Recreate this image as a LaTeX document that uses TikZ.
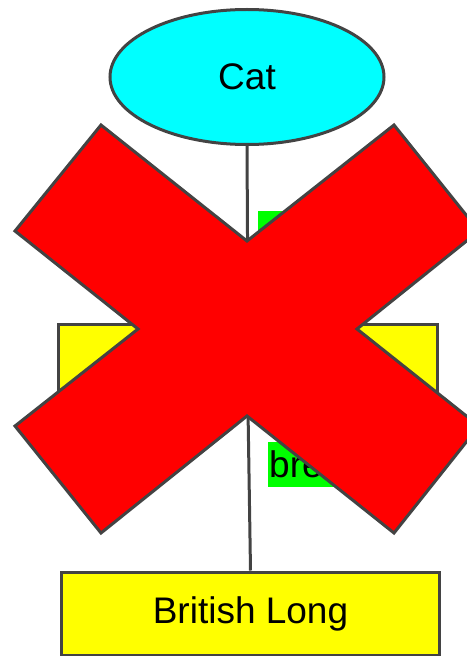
\documentclass[tikz,border=0pt]{standalone}
\usepackage{fontspec}
\setmainfont{Liberation Sans}
\usetikzlibrary{shapes.geometric}
\definecolor{edgegray}{HTML}{434343}
\definecolor{cyanfill}{HTML}{00FFFF}
\definecolor{yellowfill}{HTML}{FFFF00}
\definecolor{greenfill}{HTML}{00FF00}
\definecolor{redfill}{HTML}{FF0000}
\tikzset{
  base/.style={draw=edgegray, line width=3bp, font=\fontsize{37bp}{44bp}\selectfont, inner sep=0pt},
  ovalnode/.style={base, ellipse, fill=cyanfill, minimum width=274bp, minimum height=135bp},
  boxnode/.style={base, rectangle, fill=yellowfill, minimum width=378bp, minimum height=84bp},
  edgelabel/.style={fill=greenfill, anchor=north west, inner sep=0pt, minimum height=45bp, font=\fontsize{37bp}{44bp}\selectfont},
  connector/.style={draw=edgegray, line width=3bp},
  crossmark/.style={draw=edgegray, fill=redfill, line width=3bp, line join=miter}
}
\begin{document}
\begin{tikzpicture}[x=1bp, y=-1bp]
\useasboundingbox (0,0) rectangle (467,656);
\node[ovalnode] (cat) at (247,77) {Cat};
\node[boxnode] (mid) at (248,366) {};
\node[boxnode, minimum height=83bp] (long) at (250.5,613.5) {\raisebox{-2.5bp}{British Long}};
\draw[connector] (cat.south) -- (mid.north);
\draw[connector] (mid.south) -- (long.north);
\node[edgelabel, minimum width=80bp] (lab1) at (258,211) {};
\node[edgelabel] (lab2) at (268,442) {\makebox[80bp][l]{\hspace{1bp}bre}};
\draw[crossmark] (101,125) -- (247,241) -- (394,125) -- (479,231) -- (357,329)
  -- (479,426) -- (394,533) -- (247,416) -- (101,533) -- (15,426)
  -- (138,329) -- (15,231) -- cycle;
\end{tikzpicture}
\end{document}
